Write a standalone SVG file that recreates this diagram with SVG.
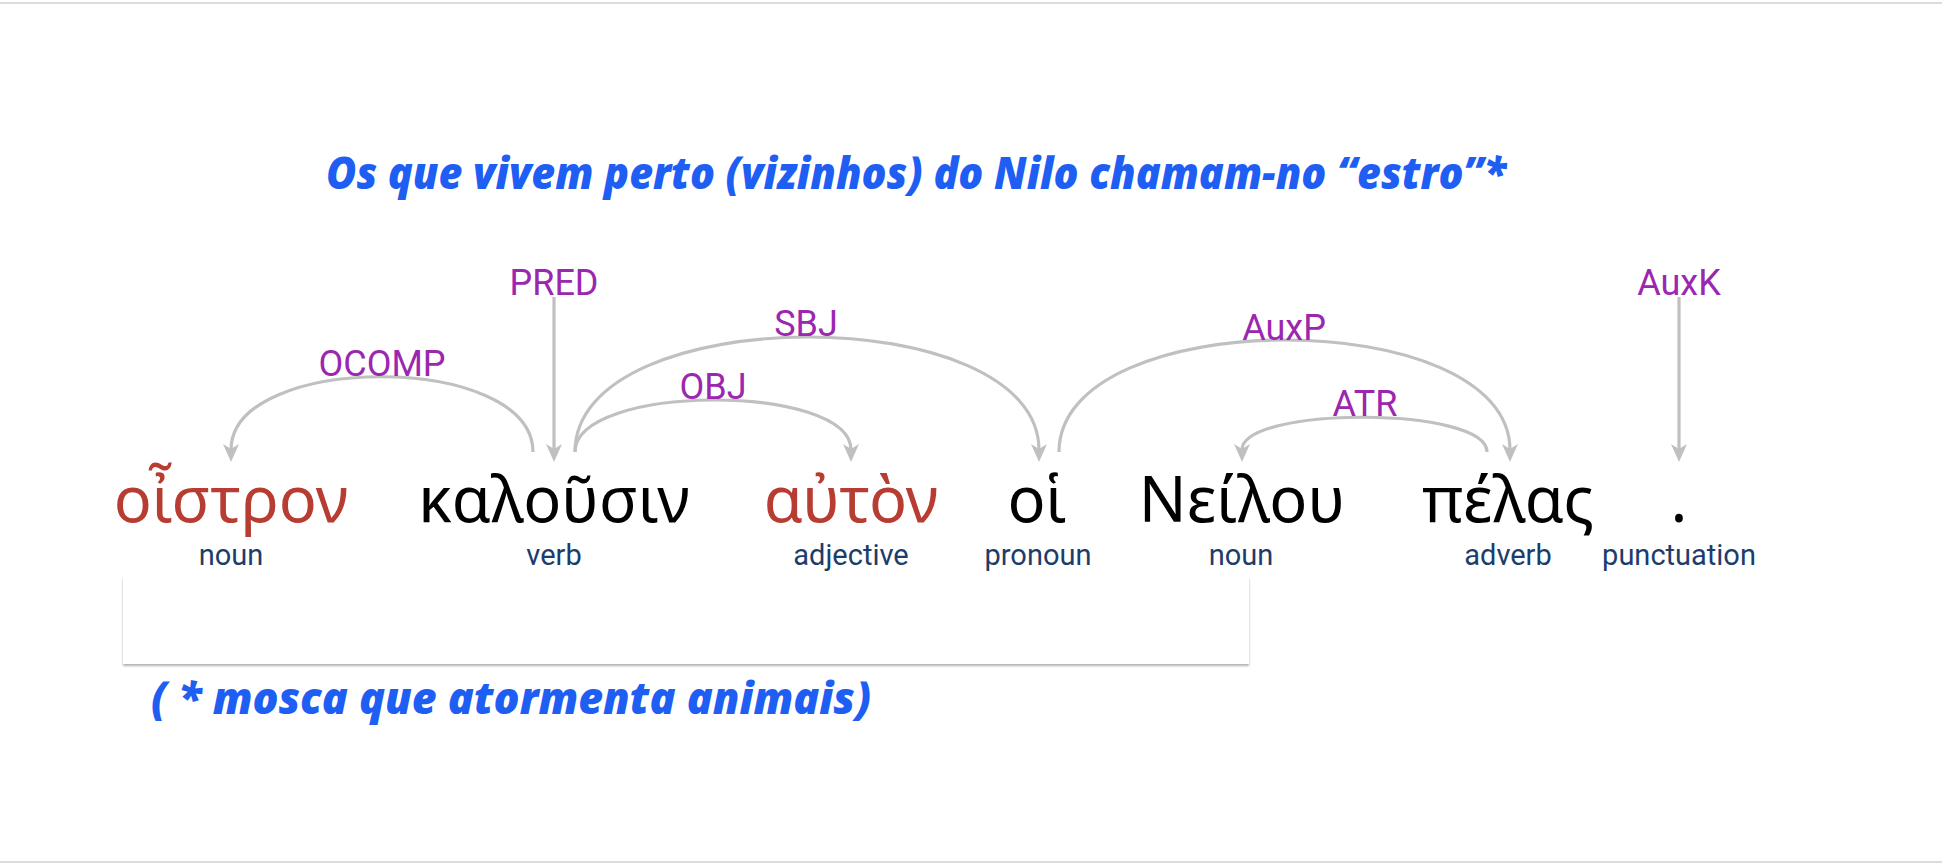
<svg xmlns="http://www.w3.org/2000/svg" width="1942" height="868" viewBox="0 0 1942 868">
<style>
.title{font-family:"Open Sans","Noto Sans",sans-serif;font-weight:800;font-style:italic;fill:#1f5ef2}
.word{font-family:"Noto Sans","DejaVu Sans",sans-serif;font-size:63px;text-anchor:middle;fill:#000}
.red{fill:#b73c31}
.pos{font-family:Roboto,"Noto Sans",sans-serif;font-size:29px;text-anchor:middle;fill:#1b3d6c}
.rel{font-family:Roboto,"Noto Sans",sans-serif;font-size:36px;text-anchor:middle;fill:#9b27af}
.arc{fill:none;stroke:#c0c0c0;stroke-width:3.2;marker-end:url(#arr)}
.rule{stroke:#dcdcdc;stroke-width:2}
</style>
<defs>
<marker id="arr" markerUnits="userSpaceOnUse" viewBox="0 0 18 16" refX="6" refY="8" markerWidth="18" markerHeight="16" orient="auto">
<path d="M0,0 L18,8 L0,16 L5,8 z" fill="#c0c0c0"/>
</marker>
<filter id="sh" x="-5%" y="-20%" width="110%" height="150%">
<feDropShadow dx="0" dy="2" stdDeviation="1.2" flood-color="#000" flood-opacity="0.3"/>
</filter>
</defs>
<rect width="1942" height="868" fill="#fff"/>
<line class="rule" x1="0" y1="3" x2="1942" y2="3"/>
<line class="rule" x1="0" y1="862" x2="1942" y2="862"/>

<g id="title">
<text class="title" x="326" y="189" font-size="44" textLength="1180" lengthAdjust="spacingAndGlyphs">Os que vivem perto (vizinhos) do Nilo chamam-no “estro”*</text>
</g>

<g id="note-box">
<rect x="123" y="577" width="1126" height="87" fill="#fff" filter="url(#sh)"/>
</g>

<g id="connectors">
<path class="arc" d="M533,452 C533,352 231,352 231,450"/>
<path class="arc" d="M554,297 L554,450"/>
<path class="arc" d="M575,452 C575,299 1039,299 1039,450"/>
<path class="arc" d="M575,452 C575,383 851,383 851,450"/>
<path class="arc" d="M1059,452 C1059,303 1510,303 1510,450"/>
<path class="arc" d="M1487,452 C1487,406 1242,406 1242,450"/>
<path class="arc" d="M1679,297 L1679,450"/>
<text class="rel" x="382" y="376">OCOMP</text>
<text class="rel" x="554" y="295">PRED</text>
<text class="rel" x="806" y="336">SBJ</text>
<text class="rel" x="713" y="399">OBJ</text>
<text class="rel" x="1284" y="340">AuxP</text>
<text class="rel" x="1365" y="416">ATR</text>
<text class="rel" x="1679" y="295">AuxK</text>
</g>

<g id="w1"><text class="word red" x="231" y="522">οἶστρον</text><text class="pos" x="231" y="565">noun</text></g>
<g id="w2"><text class="word" x="554" y="522">καλοῦσιν</text><text class="pos" x="554" y="565">verb</text></g>
<g id="w3"><text class="word red" x="851" y="522">αὐτὸν</text><text class="pos" x="851" y="565">adjective</text></g>
<g id="w4"><text class="word" x="1037" y="522">οἱ</text><text class="pos" x="1038" y="565">pronoun</text></g>
<g id="w5"><text class="word" x="1242" y="522">Νείλου</text><text class="pos" x="1241" y="565">noun</text></g>
<g id="w6"><text class="word" x="1508" y="522">πέλας</text><text class="pos" x="1508" y="565">adverb</text></g>
<g id="w7"><text class="word" x="1679" y="522">.</text><text class="pos" x="1679" y="565">punctuation</text></g>

<g id="footnote">
<text class="title" x="151" y="714" font-size="44" textLength="720" lengthAdjust="spacingAndGlyphs">( * mosca que atormenta animais)</text>
</g>
</svg>
